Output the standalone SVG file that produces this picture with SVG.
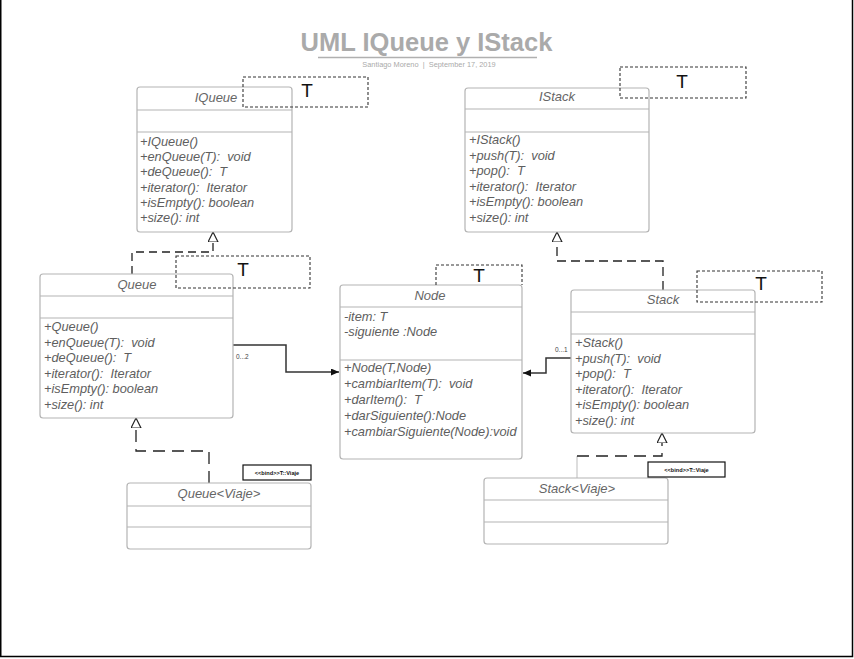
<svg xmlns="http://www.w3.org/2000/svg" width="854" height="659" viewBox="0 0 854 659">
<style>
text{font-family:"Liberation Sans",Arial,sans-serif;white-space:pre}
.box{fill:#fff;stroke:#b4b4b4;stroke-width:1.2}
.div{stroke:#b4b4b4;stroke-width:1.2}
.hd{font-size:13px;font-style:italic;fill:#666;text-anchor:middle}
.m{font-size:12.8px;font-style:italic;fill:#5e5e5e}
.tp{fill:none;stroke:#333;stroke-width:1.1;stroke-dasharray:3 2}
.tl{font-size:19px;fill:#111;text-anchor:middle}
.real{fill:none;stroke:#222;stroke-width:1.3}
.assoc{fill:none;stroke:#333;stroke-width:1.5}
.mult{font-size:6.5px;fill:#444}
.bind{fill:#fff;stroke:#111;stroke-width:1.2}
.bt{font-size:5.6px;font-weight:bold;fill:#111;text-anchor:middle}
</style>
<defs>
<marker id="tri" markerUnits="userSpaceOnUse" markerWidth="12" markerHeight="12" refX="10" refY="5" orient="auto" viewBox="0 0 12 12">
<path d="M0,0 L10,5 L0,10 z" fill="#fff" stroke="#222" stroke-width="1.2"/>
</marker>
<marker id="arr" markerUnits="userSpaceOnUse" markerWidth="10" markerHeight="10" refX="8" refY="3.5" orient="auto" viewBox="0 0 10 10">
<path d="M0,0 L8,3.5 L0,7 z" fill="#111"/>
</marker>
</defs>
<rect width="854" height="659" fill="#fff"/>
<path d="M0.75,0 V656.5 H852.5 V0" fill="none" stroke="#000" stroke-width="1.5"/>

<g id="title">
<text x="426.5" y="51" font-size="25.5" font-weight="bold" fill="#aaaaaa" text-anchor="middle">UML IQueue y IStack</text>
<line x1="318" y1="57.5" x2="537" y2="57.5" stroke="#b0b0b0" stroke-width="1.5"/>
<text x="429" y="66.5" font-size="7.4" fill="#aaa" text-anchor="middle">Santiago Moreno  |  September 17, 2019</text>
</g>

<g id="connectors">
<path class="real" stroke-dasharray="8 5" d="M132,274 V252 H213 V232" marker-end="url(#tri)"/>
<path class="real" stroke-dasharray="9 5" d="M663,290 V261 H557 V232" marker-end="url(#tri)"/>
<path class="real" stroke-dasharray="12 7" d="M209,483 V451 H136 V418" marker-end="url(#tri)"/>
<path fill="none" stroke="#bbb" stroke-width="1" d="M577,478 V456"/>
<path class="real" stroke-dasharray="12 7" d="M577,456 H662 V433" marker-end="url(#tri)"/>
<path class="assoc" d="M233,345 H286 V372 H339" marker-end="url(#arr)"/>
<path class="assoc" d="M571,358 H546 V373 H523" marker-end="url(#arr)"/>
<text class="mult" x="236" y="359">0...2</text>
<text class="mult" x="555" y="352">0...1</text>
</g>

<g id="IQueue">
<rect class="box" x="137" y="87" width="155" height="145" rx="3"/>
<line class="div" x1="137" y1="110" x2="292" y2="110"/>
<line class="div" x1="137" y1="132" x2="292" y2="132"/>
<text class="hd" x="216" y="102">IQueue</text>
<text class="m" x="140" y="146">+IQueue()</text>
<text class="m" x="140" y="161.2">+enQueue(T):  void</text>
<text class="m" x="140" y="176.4">+deQueue():  T</text>
<text class="m" x="140" y="191.6">+iterator():  Iterator</text>
<text class="m" x="140" y="206.8">+isEmpty(): boolean</text>
<text class="m" x="140" y="222">+size(): int</text>
<rect class="tp" x="243" y="77" width="125" height="30"/>
<text class="tl" x="307" y="97">T</text>
</g>

<g id="IStack">
<rect class="box" x="465" y="88" width="184" height="144" rx="3"/>
<line class="div" x1="465" y1="109" x2="649" y2="109"/>
<line class="div" x1="465" y1="132" x2="649" y2="132"/>
<text class="hd" x="557" y="101">IStack</text>
<text class="m" x="469" y="144">+IStack()</text>
<text class="m" x="469" y="159.6">+push(T):  void</text>
<text class="m" x="469" y="175.2">+pop():  T</text>
<text class="m" x="469" y="190.8">+iterator():  Iterator</text>
<text class="m" x="469" y="206.4">+isEmpty(): boolean</text>
<text class="m" x="469" y="222">+size(): int</text>
<rect class="tp" x="620" y="67" width="126" height="31"/>
<text class="tl" x="682" y="88">T</text>
</g>

<g id="Queue">
<rect class="box" x="40" y="274" width="193" height="144" rx="3"/>
<line class="div" x1="40" y1="296" x2="233" y2="296"/>
<line class="div" x1="40" y1="318" x2="233" y2="318"/>
<text class="hd" x="137" y="289">Queue</text>
<text class="m" x="44" y="331">+Queue()</text>
<text class="m" x="44" y="346.6">+enQueue(T):  void</text>
<text class="m" x="44" y="362.2">+deQueue():  T</text>
<text class="m" x="44" y="377.8">+iterator():  Iterator</text>
<text class="m" x="44" y="393.4">+isEmpty(): boolean</text>
<text class="m" x="44" y="409">+size(): int</text>
<rect class="tp" x="176" y="256" width="134" height="32"/>
<text class="tl" x="243" y="276">T</text>
</g>

<g id="Node">
<rect class="box" x="340" y="285" width="182" height="174" rx="3"/>
<line class="div" x1="340" y1="307" x2="522" y2="307"/>
<line class="div" x1="340" y1="360" x2="522" y2="360"/>
<text class="hd" x="430" y="300">Node</text>
<text class="m" x="344" y="321">-item: T</text>
<text class="m" x="344" y="336">-siguiente :Node</text>
<text class="m" x="344" y="372">+Node(T,Node)</text>
<text class="m" x="344" y="388">+cambiarItem(T):  void</text>
<text class="m" x="344" y="404">+darItem():  T</text>
<text class="m" x="344" y="420">+darSiguiente():Node</text>
<text class="m" x="344" y="436">+cambiarSiguiente(Node):void</text>
<path class="tp" d="M436,285 V265 H522 V285"/>
<text class="tl" x="479" y="282">T</text>
</g>

<g id="Stack">
<rect class="box" x="571" y="290" width="184" height="143" rx="3"/>
<line class="div" x1="571" y1="312" x2="755" y2="312"/>
<line class="div" x1="571" y1="334" x2="755" y2="334"/>
<text class="hd" x="663" y="304">Stack</text>
<text class="m" x="575" y="347">+Stack()</text>
<text class="m" x="575" y="362.6">+push(T):  void</text>
<text class="m" x="575" y="378.2">+pop():  T</text>
<text class="m" x="575" y="393.8">+iterator():  Iterator</text>
<text class="m" x="575" y="409.4">+isEmpty(): boolean</text>
<text class="m" x="575" y="425">+size(): int</text>
<rect class="tp" x="697" y="271" width="125" height="31"/>
<text class="tl" x="761" y="290">T</text>
</g>

<g id="QueueViaje">
<rect class="box" x="127" y="483" width="184" height="66" rx="3"/>
<line class="div" x1="127" y1="506" x2="311" y2="506"/>
<line class="div" x1="127" y1="527" x2="311" y2="527"/>
<text class="hd" x="219" y="498">Queue&lt;Viaje&gt;</text>
<rect class="bind" x="243" y="465" width="68" height="15"/>
<text class="bt" x="277" y="474.5">&lt;&lt;bind&gt;&gt;T::Viaje</text>
</g>

<g id="StackViaje">
<rect class="box" x="484" y="478" width="184" height="66" rx="3"/>
<line class="div" x1="484" y1="500" x2="668" y2="500"/>
<line class="div" x1="484" y1="522" x2="668" y2="522"/>
<text class="hd" x="577" y="493">Stack&lt;Viaje&gt;</text>
<rect class="bind" x="648" y="462" width="77" height="15"/>
<text class="bt" x="686.5" y="471.5">&lt;&lt;bind&gt;&gt;T::Viaje</text>
</g>
</svg>
